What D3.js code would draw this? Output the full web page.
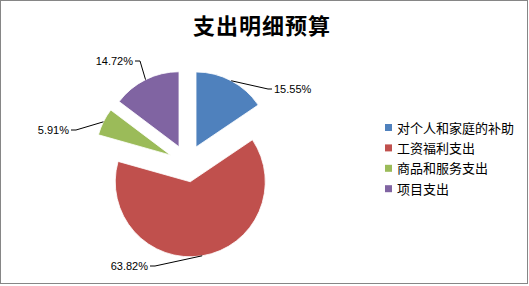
<!DOCTYPE html>
<html>
<head>
<meta charset="utf-8">
<script src="https://cdn.jsdelivr.net/npm/d3@7"></script>
<style>
  body { margin: 0; background: #fff; }
  svg { display: block; }
</style>
</head>
<body>
<svg width="529" height="286"></svg>
<script>
// chart data
const categories = ["对个人和家庭的补助", "工资福利支出", "商品和服务支出", "项目支出"];
const shares = [15.55, 63.82, 5.91, 14.72];
const colors = ["#4F81BD", "#C0504D", "#9BBB59", "#8064A2"];
const labelText = ["15.55%", "63.82%", "5.91%", "14.72%"];

// label elbow points (layout only)
const elbows = [[268, 89], [155, 266], [76, 130], [140, 61]];

function main() {
  const svg = d3.select("svg");

  svg.append("rect")
    .attr("x", 0.5).attr("y", 0.5)
    .attr("width", 527).attr("height", 283)
    .attr("fill", "#fff")
    .attr("stroke", "#868686");

  svg.append("text")
    .attr("x", 262).attr("y", 34)
    .attr("text-anchor", "middle")
    .style("font-family", "'Noto Sans CJK SC'")
    .style("font-weight", "bold")
    .style("font-size", "22px")
    .style("letter-spacing", "1px")
    .text("支出明细预算");

  const cx = 187.3, cy = 163.4, r = 75, explode = 18.6;

  const pie = d3.pie().sort(null).value(d => d);
  const arcs = pie(shares);
  const arc = d3.arc().innerRadius(0).outerRadius(r);
  const edge = d3.arc().innerRadius(r).outerRadius(r);

  const off = d => {
    const a = (d.startAngle + d.endAngle) / 2;
    return [explode * Math.sin(a), -explode * Math.cos(a)];
  };

  const g = svg.append("g").attr("transform", `translate(${cx},${cy})`);

  g.selectAll("path.slice")
    .data(arcs)
    .join("path")
    .attr("class", "slice")
    .attr("transform", d => `translate(${off(d)})`)
    .attr("d", arc)
    .attr("fill", (d, i) => colors[i])
    .attr("stroke", "#fff")
    .attr("stroke-width", 0.8);

  // leader lines
  arcs.forEach((d, i) => {
    const o = off(d);
    const p = edge.centroid(d);
    const sx = cx + o[0] + p[0], sy = cy + o[1] + p[1];
    const [ex, ey] = elbows[i];
    const right = ex > sx;
    const tx = right ? ex + 4 : ex - 5;
    svg.append("polyline")
      .attr("points", [[sx, sy], [ex, ey], [tx, ey]].map(q => q.join(",")).join(" "))
      .attr("fill", "none")
      .attr("stroke", "#000")
      .attr("stroke-width", 1);
    svg.append("text")
      .attr("x", right ? tx + 2 : tx - 2)
      .attr("y", ey + 4)
      .attr("text-anchor", right ? "start" : "end")
      .style("font-family", "'Liberation Sans', sans-serif")
      .style("font-size", "11px")
      .text(labelText[i]);
  });

  // legend
  const legend = svg.append("g").attr("transform", "translate(385,128)");
  const rows = legend.selectAll("g")
    .data(categories)
    .join("g")
    .attr("transform", (d, i) => `translate(0,${i * 20.4})`);
  rows.append("rect")
    .attr("x", 0).attr("y", -4)
    .attr("width", 7).attr("height", 7)
    .attr("fill", (d, i) => colors[i]);
  rows.append("text")
    .attr("x", 12).attr("y", 4.5)
    .style("font-family", "'Noto Sans CJK SC'")
    .style("font-size", "13px")
    .text(d => d);
}
main();
</script>
</body>
</html>
